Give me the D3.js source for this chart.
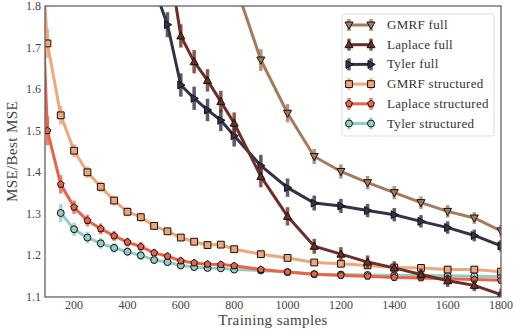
<!DOCTYPE html>
<html>
<head>
<meta charset="utf-8">
<script src="https://cdn.jsdelivr.net/npm/d3@7"></script>
<style>
  body { margin: 0; background: #fff; }
  svg { display: block; font-family: "Liberation Serif", "DejaVu Serif", serif; }
</style>
</head>
<body>
<div id="chart"></div>
<script>
// training sample sizes (x axis)
var samples = [50, 100, 150, 200, 250, 300, 350, 400, 450, 500, 550, 600, 650, 700, 750, 800,
  900, 1000, 1100, 1200, 1300, 1400, 1500, 1600, 1700, 1800];

// MSE / best MSE, null where the method has no value
var gmrfFull = [null, null, null, null, null, null, null, null, null, null, null, null, null, null, null, 1.86,
  1.670, 1.542, 1.438, 1.402, 1.375, 1.351, 1.327, 1.306, 1.290, 1.259];
var laplaceFull = [null, null, null, null, null, null, null, null, null, null, 1.93, 1.728, 1.666, 1.621, 1.570, 1.518,
  1.390, 1.294, 1.222, 1.203, 1.184, 1.170, 1.154, 1.139, 1.128, 1.106];
var tylerFull = [null, null, null, null, null, null, null, null, null, 1.845, 1.755, 1.610, 1.578, 1.550, 1.525, 1.488,
  1.416, 1.363, 1.326, 1.319, 1.308, 1.298, 1.282, 1.267, 1.248, 1.223];
var gmrfStructured = [2.2, 1.710, 1.537, 1.452, 1.400, 1.365, 1.332, 1.305, 1.292, 1.271, 1.258, 1.243, 1.233, 1.225, 1.226, 1.215,
  1.203, 1.194, 1.183, 1.180, 1.176, 1.171, 1.170, 1.166, 1.166, 1.161];
var laplaceStructured = [2.3, 1.500, 1.371, 1.316, 1.284, 1.264, 1.247, 1.232, 1.221, 1.206, 1.198, 1.187, 1.182, 1.179, 1.178, 1.175,
  1.166, 1.160, 1.155, 1.152, 1.150, 1.147, 1.146, 1.144, 1.142, 1.140];
var tylerStructured = [null, null, 1.302, 1.263, 1.243, 1.229, 1.218, 1.209, 1.200, 1.189, 1.184, 1.176, 1.172, 1.170, 1.169, 1.166,
  1.164, 1.160, 1.155, 1.154, 1.153, 1.152, 1.152, 1.151, 1.150, 1.149];

// half widths of the error bars
var errFull = [0.03, 0.03, 0.03, 0.03, 0.03, 0.03, 0.03, 0.03, 0.03, 0.03, 0.03, 0.028, 0.028, 0.027, 0.026, 0.026,
  0.026, 0.022, 0.018, 0.017, 0.016, 0.016, 0.015, 0.015, 0.014, 0.014];
var errStructured = [0.04, 0.035, 0.022, 0.016, 0.014, 0.013, 0.012, 0.011, 0.011, 0.01, 0.009, 0.009, 0.008, 0.008, 0.008, 0.008,
  0.007, 0.007, 0.007, 0.006, 0.006, 0.006, 0.006, 0.006, 0.006, 0.006];

var seriesNames = ["GMRF full", "Laplace full", "Tyler full", "GMRF structured", "Laplace structured", "Tyler structured"];
var seriesValues = [gmrfFull, laplaceFull, tylerFull, gmrfStructured, laplaceStructured, tylerStructured];
var seriesErrors = [errFull, errFull, errFull, errStructured, errStructured, errStructured];
var seriesColors = ["#a57a5c", "#6e2e26", "#383046", "#eea67b", "#e8634a", "#92ccc4"];
var seriesShapes = ["tridown", "triup", "triright", "square", "pentagon", "circle"];

var xTicks = [200, 400, 600, 800, 1000, 1200, 1400, 1600, 1800];
var yTicks = [1.1, 1.2, 1.3, 1.4, 1.5, 1.6, 1.7, 1.8];

var W = 513, H = 331;
var margin = {top: 6, right: 12, bottom: 34, left: 45};

var x = d3.scaleLinear().domain([91, 1800]).range([margin.left, W - margin.right]);
var y = d3.scaleLinear().domain([1.1, 1.8]).range([H - margin.bottom, margin.top]);

var svg = d3.select("#chart").append("svg")
  .attr("width", W)
  .attr("height", H);

svg.append("clipPath").attr("id", "clip")
  .append("rect")
  .attr("x", margin.left).attr("y", margin.top)
  .attr("width", x.range()[1] - margin.left)
  .attr("height", y.range()[0] - margin.top);

function markerPath(shape) {
  var s = 3.4;
  if (shape == "circle") return d3.symbol(d3.symbolCircle, 38)();
  if (shape == "square") return "M" + -s + "," + -s + "H" + s + "V" + s + "H" + -s + "Z";
  if (shape == "pentagon") {
    var pts = d3.range(5).map(function(i) {
      var a = -Math.PI / 2 + i * 2 * Math.PI / 5;
      return [3.6 * Math.cos(a), 3.6 * Math.sin(a)];
    });
    return "M" + pts.join("L") + "Z";
  }
  var t = [[0, -4.2], [4, 3], [-4, 3]];
  var rot = {triup: 0, tridown: 180, triright: 90}[shape];
  var r = rot * Math.PI / 180;
  var p = t.map(function(q) {
    return [q[0] * Math.cos(r) - q[1] * Math.sin(r), q[0] * Math.sin(r) + q[1] * Math.cos(r)];
  });
  return "M" + p.join("L") + "Z";
}

var plot = svg.append("g").attr("clip-path", "url(#clip)");

// draw in reverse so the full estimators end up on top
d3.range(seriesNames.length).reverse().forEach(function(k) {
  var pts = samples.map(function(s, i) {
    return {x: s, y: seriesValues[k][i], e: seriesErrors[k][i]};
  }).filter(function(d) { return d.y != null; });

  var g = plot.append("g");
  var line = d3.line().x(function(d) { return x(d.x); }).y(function(d) { return y(d.y); });

  g.append("path")
    .datum(pts)
    .attr("d", line)
    .attr("fill", "none")
    .attr("stroke", seriesColors[k])
    .attr("stroke-width", 3);

  g.selectAll(".err").data(pts).enter().append("line")
    .attr("x1", function(d) { return x(d.x); })
    .attr("x2", function(d) { return x(d.x); })
    .attr("y1", function(d) { return y(d.y - d.e); })
    .attr("y2", function(d) { return y(d.y + d.e); })
    .attr("stroke", seriesColors[k])
    .attr("stroke-opacity", 0.8)
    .attr("stroke-width", 3.5);

  g.selectAll(".mk").data(pts).enter().append("path")
    .attr("transform", function(d) { return "translate(" + x(d.x) + "," + y(d.y) + ")"; })
    .attr("d", markerPath(seriesShapes[k]))
    .attr("fill", seriesColors[k])
    .attr("stroke", "#111")
    .attr("stroke-width", 1);
});

// frame
svg.append("rect")
  .attr("x", margin.left).attr("y", margin.top)
  .attr("width", x.range()[1] - margin.left)
  .attr("height", y.range()[0] - margin.top)
  .attr("fill", "none")
  .attr("stroke", "#555")
  .attr("stroke-width", 1.2);

// tick labels
svg.append("g").selectAll("text").data(xTicks).enter().append("text")
  .attr("x", function(d) { return x(d); })
  .attr("y", H - margin.bottom + 12)
  .attr("text-anchor", "middle")
  .attr("fill", "#444")
  .style("font-size", "12px")
  .text(function(d) { return d; });

svg.append("g").selectAll("text").data(yTicks).enter().append("text")
  .attr("x", margin.left - 4)
  .attr("y", function(d) { return y(d) + 4; })
  .attr("text-anchor", "end")
  .attr("fill", "#444")
  .style("font-size", "12px")
  .text(function(d) { return d.toFixed(1); });

// axis labels
svg.append("text")
  .attr("x", (margin.left + x.range()[1]) / 2)
  .attr("y", H - 6)
  .attr("text-anchor", "middle")
  .attr("fill", "#444")
  .style("font-size", "15px")
  .style("letter-spacing", "0.4px")
  .text("Training samples");

var ly = (margin.top + y.range()[0]) / 2;
svg.append("text")
  .attr("transform", "translate(17," + ly + ") rotate(-90)")
  .attr("text-anchor", "middle")
  .attr("fill", "#444")
  .style("font-size", "15px")
  .style("letter-spacing", "0.4px")
  .text("MSE/Best MSE");

// legend
var lg = svg.append("g");
lg.append("rect")
  .attr("x", 342).attr("y", 14)
  .attr("width", 152).attr("height", 122)
  .attr("rx", 2)
  .attr("fill", "#fff")
  .attr("stroke", "#ddd");

seriesNames.forEach(function(name, k) {
  var ry = 25 + k * 19.7;
  var row = lg.append("g");
  row.append("line")
    .attr("x1", 349).attr("x2", 371).attr("y1", ry).attr("y2", ry)
    .attr("stroke", seriesColors[k]).attr("stroke-width", 3);
  [349, 371].forEach(function(cx) {
    row.append("line")
      .attr("x1", cx).attr("x2", cx).attr("y1", ry - 6).attr("y2", ry + 6)
      .attr("stroke", seriesColors[k]).attr("stroke-opacity", 0.8).attr("stroke-width", 3.5);
    row.append("path")
      .attr("transform", "translate(" + cx + "," + ry + ")")
      .attr("d", markerPath(seriesShapes[k]))
      .attr("fill", seriesColors[k])
      .attr("stroke", "#111")
      .attr("stroke-width", 1);
  });
  row.append("text")
    .attr("x", 387).attr("y", ry + 4)
    .attr("fill", "#333")
    .style("font-size", "13px")
    .style("letter-spacing", "0.3px")
    .text(name);
});
</script>
</body>
</html>
